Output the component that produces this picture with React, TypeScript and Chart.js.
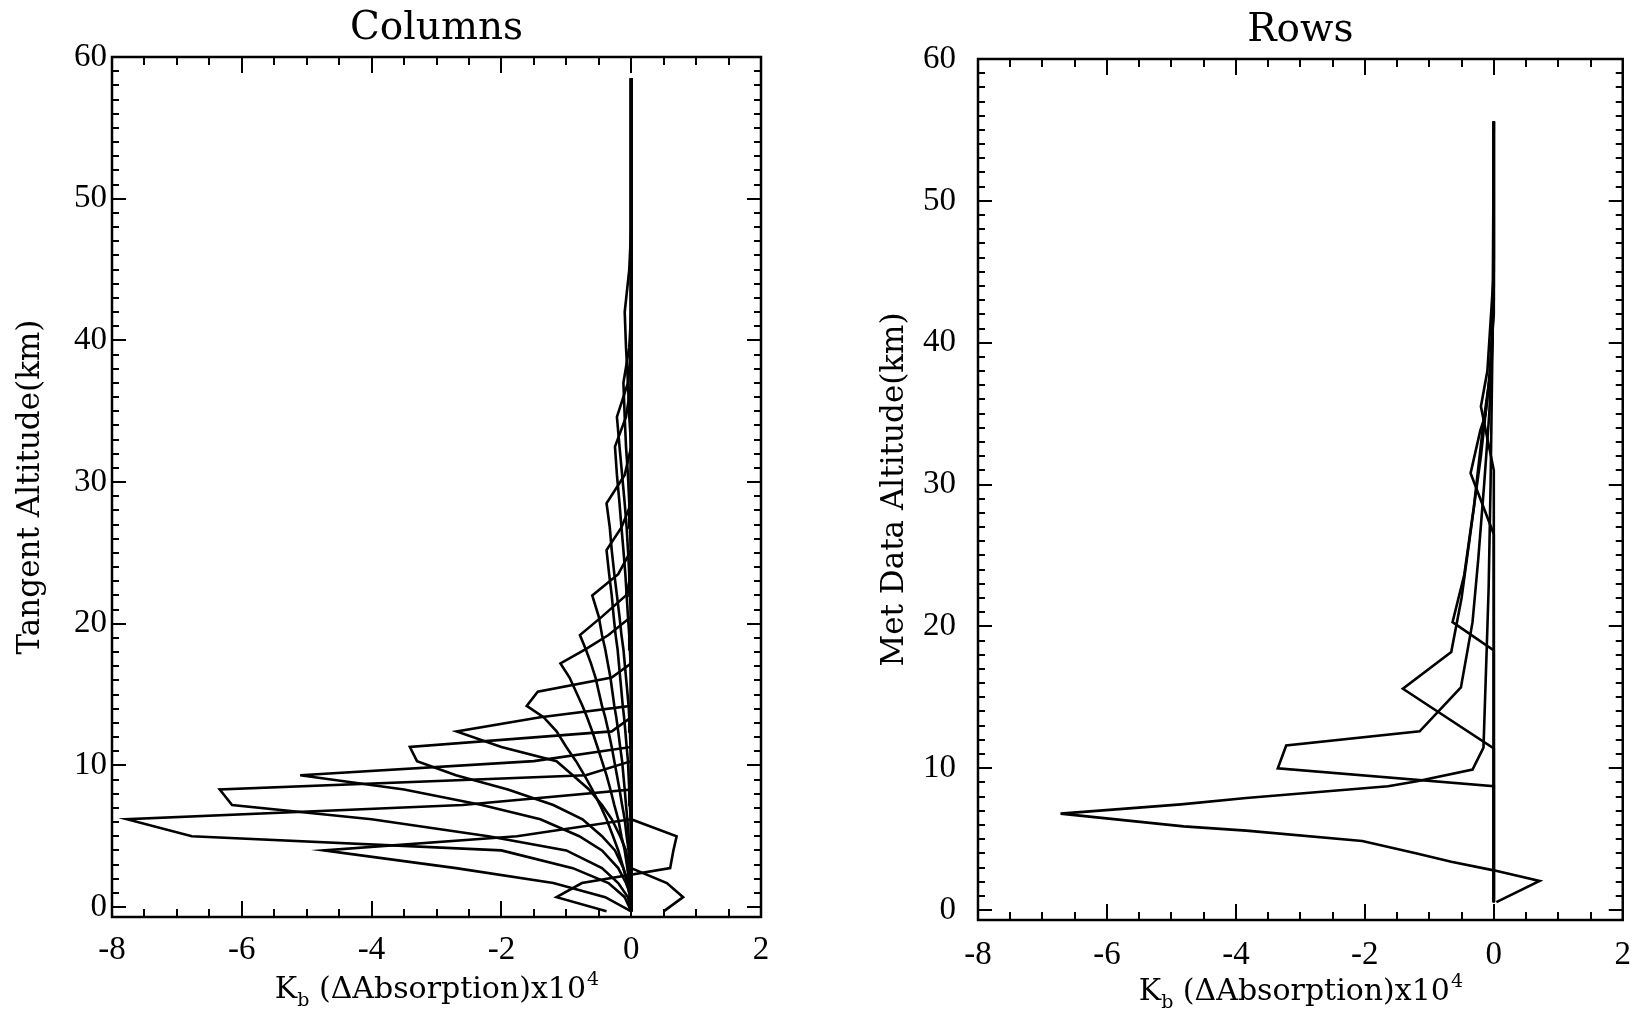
import React, { useEffect, useRef } from "react";
import { Chart, registerables } from "chart.js";

Chart.register(...registerables);

// ---------------- DATA ----------------
const xTickValues = [-8, -6, -4, -2, 0, 2];
const yTickValues = [0, 10, 20, 30, 40, 50, 60];
const xRange = [-8, 2];
const yRange = [-0.7, 60];

const leftTitle = "Columns";
const rightTitle = "Rows";
const leftYTitle = "Tangent Altitude(km)";
const rightYTitle = "Met Data Altitude(km)";
const xTitleMain = "K";
const xTitleSub = "b";
const xTitleMid = " (\u0394Absorption)x10";
const xTitleSup = "4";

// Tangent altitudes (km) shared by every column of the kernel matrix
const tangentAltitudes = [
  -0.3, 0.7, 1.7, 2.75, 4.0, 5.0, 6.2, 7.2, 8.3, 9.3, 10.3, 11.3, 12.4, 13.4,
  14.2, 15.2, 16.2, 17.2, 18.2, 19.2, 20.5, 22.0, 23.5, 25.2, 26.8, 28.5, 30.5,
  32.5, 34.6, 37.0, 39.5, 42.0, 45.0, 48.0, 51.0, 54.0, 56.5, 58.5,
];

// Column values (x10^4), listed from the lowest tangent altitude upward;
// altitudes beyond the end of a list are 0.
const colA = [-0.38, -1.15, -0.76, 0.6, 0.65, 0.7];
const colB = [0.5, 0.8, 0.55];
const colT4 = [0, -0.4, -1.2, -2.7, -4.74, -1.76];
const colT1 = [0, -0.1, -0.35, -0.9, -2.0, -6.77, -7.77, -2.6];
const colT2 = [0, -0.05, -0.2, -0.45, -1.0, -2.2, -4.0, -6.15, -6.34, -0.7];
const colT3 = [0, 0, -0.08, -0.2, -0.45, -0.8, -1.4, -2.3, -3.5, -5.1, -1.5];
const colT5 = [0, 0, -0.05, -0.12, -0.25, -0.45, -0.75, -1.2, -1.9, -2.7, -3.3, -3.41, -0.3];
const colT6 = [0, 0, -0.01, -0.04, -0.08, -0.17, -0.3, -0.45, -0.65, -0.9, -1.15, -2.0, -2.69, -1.4];
const colT7 = [0, -0.02, -0.06, -0.12, -0.2, -0.28, -0.38, -0.48, -0.6, -0.72, -0.85, -1.0, -1.15, -1.35, -1.61, -1.44, -0.3];
const colT8 = [0, -0.01, -0.03, -0.06, -0.1, -0.15, -0.2, -0.26, -0.32, -0.38, -0.45, -0.52, -0.6, -0.68, -0.75, -0.85, -0.95, -1.09, -0.7, -0.35];
const colT9 = [0, 0, -0.01, -0.02, -0.04, -0.07, -0.1, -0.14, -0.18, -0.22, -0.26, -0.3, -0.35, -0.4, -0.45, -0.5, -0.55, -0.62, -0.7, -0.79, -0.45, -0.08];
const colT10 = [0, 0, 0, -0.01, -0.02, -0.04, -0.06, -0.08, -0.1, -0.12, -0.14, -0.17, -0.2, -0.23, -0.26, -0.29, -0.32, -0.36, -0.4, -0.45, -0.5, -0.6, -0.2];
const colT11 = [0, 0, 0, 0, 0, 0, -0.01, -0.02, -0.03, -0.04, -0.05, -0.07, -0.09, -0.11, -0.13, -0.15, -0.17, -0.19, -0.21, -0.24, -0.27, -0.3, -0.34, -0.38, -0.15];
const colT12 = [0, 0, 0, 0, 0, 0, 0, 0, 0, 0, 0, -0.01, -0.02, -0.03, -0.04, -0.06, -0.08, -0.1, -0.12, -0.15, -0.18, -0.22, -0.26, -0.3, -0.33, -0.38, -0.1];
const colT13 = [0, 0, 0, 0, 0, 0, 0, 0, 0, 0, 0, 0, 0, 0, 0, 0, 0, -0.01, -0.02, -0.03, -0.05, -0.07, -0.09, -0.12, -0.15, -0.18, -0.22, -0.25, -0.08];
const colT14 = [0, 0, 0, 0, 0, 0, 0, 0, 0, 0, 0, 0, 0, 0, 0, 0, 0, 0, 0, 0, 0, -0.02, -0.03, -0.05, -0.07, -0.1, -0.14, -0.18, -0.22, -0.05];
const colT15 = [0, 0, 0, 0, 0, 0, 0, 0, 0, 0, 0, 0, 0, 0, 0, 0, 0, 0, 0, 0, 0, 0, 0, 0, -0.02, -0.03, -0.05, -0.08, -0.1, -0.12, -0.03];
const colT16 = [0, 0, 0, 0, 0, 0, 0, 0, 0, 0, 0, 0, 0, 0, 0, 0, 0, 0, 0, 0, 0, 0, 0, 0, 0, 0, 0, 0, -0.03, -0.05, -0.08, -0.1, -0.03];

const columnSeries = [
  colA, colB, colT4, colT1, colT2, colT3, colT5, colT6, colT7, colT8,
  colT9, colT10, colT11, colT12, colT13, colT14, colT15, colT16,
];

// Rows: K values (x10^4) against met-data altitude (km)
const rowR1x = [0.04, 0.71, 0, -0.66, -1.21, -2.04, -3.84, -4.81, -6.72, -4.85, -3.84, -1.64, -1.19, -0.33, -0.16, -0.11, -0.08, -0.05, -0.02, 0];
const rowR1y = [0.56, 2.05, 2.8, 3.4, 4.0, 4.87, 5.6, 5.9, 6.8, 7.45, 7.9, 8.73, 9.08, 9.9, 11.45, 18.4, 22.7, 30, 40, 55.6];
const rowR2x = [0, 0, -3.35, -3.22, -1.15, -0.51, -0.33, -0.24, -0.15, -0.07, -0.02, 0, 0];
const rowR2y = [0.56, 8.73, 10.0, 11.6, 12.6, 15.7, 20.3, 24.8, 30, 35, 40, 46, 55.6];
const rowR3x = [0, 0, -1.41, -0.66, -0.5, -0.35, -0.2, -0.08, 0, 0];
const rowR3y = [0.56, 11.4, 15.6, 18.2, 22, 27, 32, 37, 42, 55.6];
const rowR4x = [0, 0, -0.64, -0.46, -0.31, -0.16, -0.05, 0, 0];
const rowR4y = [0.56, 18.3, 20.3, 23.6, 28.4, 34.4, 38, 43, 55.6];
const rowR5x = [0, 0, -0.36, -0.21, -0.13, -0.05, 0, 0];
const rowR5y = [0.56, 26.5, 30.8, 33.8, 34.9, 38, 44, 55.6];
const rowR6x = [0, 0, -0.2, -0.1, 0, 0];
const rowR6y = [0.56, 31, 35.5, 38, 45, 55.6];

const rowSeries = [
  [rowR1x, rowR1y], [rowR2x, rowR2y], [rowR3x, rowR3y],
  [rowR4x, rowR4y], [rowR5x, rowR5y], [rowR6x, rowR6y],
];

// ---------------- STYLE ----------------
const SERIF = "'DejaVu Serif', serif";
const TICKFONT = "'Liberation Serif', serif";

const frameTicksPlugin = {
  id: "frameTicks",
  afterDatasetsDraw(chart: any) {
    const { ctx, chartArea: a, scales } = chart;
    const xs = scales.x;
    const ys = scales.y;
    ctx.save();
    ctx.strokeStyle = "#000";
    ctx.lineWidth = 2.5;
    ctx.strokeRect(a.left, a.top, a.right - a.left, a.bottom - a.top);
    ctx.lineWidth = 2;
    ctx.beginPath();
    for (let v = xRange[0]; v <= xRange[1] + 1e-9; v += 0.5) {
      const px = Math.round(xs.getPixelForValue(v));
      const major = Math.abs(v / 2 - Math.round(v / 2)) < 1e-9;
      const len = major ? 16 : 8;
      ctx.moveTo(px, a.bottom);
      ctx.lineTo(px, a.bottom - len);
      ctx.moveTo(px, a.top);
      ctx.lineTo(px, a.top + len);
    }
    for (let v = 0; v <= yRange[1] + 1e-9; v += 1) {
      const py = Math.round(ys.getPixelForValue(v));
      const major = v % 10 === 0;
      const len = major ? 14 : 7;
      ctx.moveTo(a.left, py);
      ctx.lineTo(a.left + len, py);
      ctx.moveTo(a.right, py);
      ctx.lineTo(a.right - len, py);
    }
    ctx.stroke();
    ctx.restore();
  },
};

const xTitlePlugin = {
  id: "xTitle",
  afterDraw(chart: any, _args: any, opts: any) {
    const { ctx, chartArea: a } = chart;
    ctx.save();
    ctx.fillStyle = "#000";
    ctx.textBaseline = "alphabetic";
    const big = `30px ${SERIF}`;
    const small = `19px ${SERIF}`;
    ctx.font = big;
    const wMain = ctx.measureText(xTitleMain).width;
    const wMid = ctx.measureText(xTitleMid).width;
    ctx.font = small;
    const wSub = ctx.measureText(xTitleSub).width;
    const wSup = ctx.measureText(xTitleSup).width;
    const total = wMain + wSub + wMid + wSup;
    let x = (a.left + a.right) / 2 - total / 2;
    const y = opts.baseline;
    ctx.textAlign = "left";
    ctx.font = big;
    ctx.fillText(xTitleMain, x, y);
    x += wMain;
    ctx.font = small;
    ctx.fillText(xTitleSub, x, y + 8);
    x += wSub;
    ctx.font = big;
    ctx.fillText(xTitleMid, x, y);
    x += wMid;
    ctx.font = small;
    ctx.fillText(xTitleSup, x + 1, y - 13);
    ctx.restore();
  },
};

function makeConfig(cfg: any) {
  return {
    type: "scatter",
    data: { datasets: cfg.datasets },
    options: {
      animation: false,
      responsive: false,
      maintainAspectRatio: false,
      devicePixelRatio: 1,
      events: [],
      layout: { padding: { left: 0, right: cfg.padRight, top: 0, bottom: 0 } },
      elements: { point: { radius: 0 }, line: { tension: 0 } },
      plugins: {
        legend: { display: false },
        tooltip: { enabled: false },
        title: {
          display: true,
          fullSize: false,
          text: cfg.title,
          color: "#000",
          font: { family: SERIF, size: 39, weight: "normal", lineHeight: 1.2 },
          padding: { top: cfg.titleTop, bottom: cfg.titleBottom },
        },
        xTitle: { baseline: cfg.xTitleBaseline },
      },
      scales: {
        x: {
          type: "linear",
          position: "bottom",
          min: xRange[0],
          max: xRange[1],
          grid: { display: false, drawTicks: false },
          border: { display: false },
          ticks: {
            color: "#000",
            font: { family: TICKFONT, size: 33 },
            padding: cfg.xTickPad,
            maxRotation: 0,
            autoSkip: false,
          },
          afterBuildTicks: (s: any) => {
            s.ticks = xTickValues.map((v) => ({ value: v }));
          },
          afterFit: (s: any) => {
            s.height = cfg.xAxisHeight;
          },
        },
        y: {
          type: "linear",
          min: yRange[0],
          max: yRange[1],
          grid: { display: false, drawTicks: false },
          border: { display: false },
          ticks: {
            color: "#000",
            font: { family: TICKFONT, size: 33 },
            padding: cfg.yTickPad,
            autoSkip: false,
          },
          afterBuildTicks: (s: any) => {
            s.ticks = yTickValues.map((v) => ({ value: v }));
          },
          title: {
            display: true,
            text: cfg.yTitle,
            color: "#000",
            font: { family: SERIF, size: 31, weight: "normal", lineHeight: 1.2 },
            padding: { top: cfg.yTitlePad, bottom: 0 },
          },
          afterFit: (s: any) => {
            s.width = cfg.yAxisWidth;
          },
        },
      },
    },
    plugins: [frameTicksPlugin, xTitlePlugin],
  };
}

const lineStyle = {
  showLine: true,
  borderColor: "#000",
  backgroundColor: "#000",
  borderWidth: 2.6,
  pointRadius: 0,
  fill: false,
};

function columnDatasets() {
  return columnSeries.map((col, k) => ({
    ...lineStyle,
    label: `column ${k + 1}`,
    data: tangentAltitudes.map((alt, i) => ({ x: i < col.length ? col[i] : 0, y: alt })),
  }));
}

function rowDatasets() {
  return rowSeries.map(([xs, ys], k) => ({
    ...lineStyle,
    label: `row ${k + 1}`,
    data: xs.map((v, i) => ({ x: v, y: ys[i] })),
  }));
}

export default function App() {
  const leftRef = useRef<HTMLCanvasElement>(null);
  const rightRef = useRef<HTMLCanvasElement>(null);

  useEffect(() => {
    const left = new Chart(
      leftRef.current as HTMLCanvasElement,
      makeConfig({
        datasets: columnDatasets(),
        title: leftTitle,
        yTitle: leftYTitle,
        padRight: 62,
        titleTop: 5,
        titleBottom: 5.2,
        xAxisHeight: 95,
        yAxisWidth: 112,
        yTickPad: 5,
        xTickPad: 14,
        yTitlePad: 12,
        xTitleBaseline: 998,
      }) as any
    );
    const right = new Chart(
      rightRef.current as HTMLCanvasElement,
      makeConfig({
        datasets: rowDatasets(),
        title: rightTitle,
        yTitle: rightYTitle,
        padRight: 21,
        titleTop: 7,
        titleBottom: 5.2,
        xAxisHeight: 92,
        yAxisWidth: 155,
        yTickPad: 22,
        xTickPad: 16,
        yTitlePad: 53,
        xTitleBaseline: 1000,
      }) as any
    );
    return () => {
      left.destroy();
      right.destroy();
    };
  }, []);

  return (
    <div
      style={{
        position: "fixed",
        left: 0,
        top: 0,
        width: 1647,
        height: 1012,
        background: "#fff",
        overflow: "hidden",
      }}
    >
      <canvas
        ref={leftRef}
        width={823}
        height={1012}
        style={{ position: "absolute", left: 0, top: 0, width: 823, height: 1012 }}
      />
      <canvas
        ref={rightRef}
        width={824}
        height={1012}
        style={{ position: "absolute", left: 823, top: 0, width: 824, height: 1012 }}
      />
    </div>
  );
}
